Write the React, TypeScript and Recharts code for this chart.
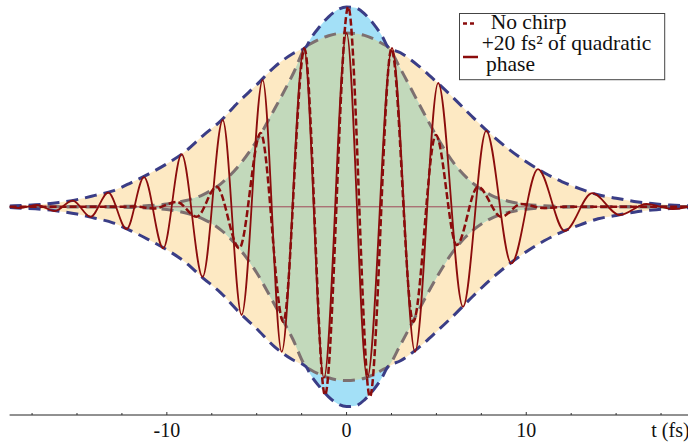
import React from 'react';
import { ComposedChart, Area, Line, XAxis, YAxis, ReferenceLine, Legend, Label } from 'recharts';

// Envelope sample times (fs) and amplitudes
const envT = [-18.75, -18, -17, -16, -15, -14, -13, -12, -11, -10, -9, -8, -7, -6, -5, -4, -3, -2.25, -2, -1.5, -1, -0.5, 0, 0.5, 1, 1.5, 2, 2.3, 3, 4, 5, 6, 7, 8, 9, 10, 11, 12, 13, 14, 15, 16, 17, 18, 19];
const unchirpedEnv = [0, 0, 0, 0, 0, 0.001, 0.002, 0.003, 0.006, 0.014, 0.03, 0.06, 0.115, 0.205, 0.33, 0.49, 0.66, 0.8, 0.84, 0.9, 0.95, 0.985, 0.999, 0.995, 0.965, 0.915, 0.85, 0.8, 0.69, 0.52, 0.355, 0.215, 0.12, 0.06, 0.028, 0.012, 0.005, 0.002, 0.001, 0, 0, 0, 0, 0, 0];
const chirpedEnv = [0.004, 0.007, 0.012, 0.022, 0.036, 0.057, 0.08, 0.12, 0.165, 0.215, 0.275, 0.355, 0.43, 0.525, 0.61, 0.7, 0.765, 0.8, 0.815, 0.838, 0.855, 0.866, 0.869, 0.866, 0.857, 0.84, 0.815, 0.8, 0.77, 0.705, 0.625, 0.54, 0.45, 0.365, 0.29, 0.225, 0.17, 0.125, 0.09, 0.06, 0.043, 0.027, 0.016, 0.009, 0.005];

// Chirped field (+20 fs^2): extrema
const chirpedT = [-18.75, -18.17, -17.25, -16.23, -15.24, -14.24, -13.26, -12.24, -11.27, -10.2, -9.18, -8.01, -6.89, -5.84, -4.67, -3.61, -2.37, -1.26, 0, 1.15, 2.53, 3.81, 5.1, 6.48, 7.77, 9.17, 10.65, 12.14, 13.67, 15.2, 16.68, 18.16, 19];
const chirpedV = [0, -0.006, 0.009, -0.021, 0.031, -0.05, 0.071, -0.111, 0.148, -0.2075, 0.263, -0.35, 0.434, -0.541, 0.634, -0.725, 0.794, -0.856, 0.869, -0.856, 0.794, -0.725, 0.619, -0.5, 0.38, -0.283, 0.188, -0.121, 0.068, -0.041, 0.014, -0.011, 0];

// Unchirped field: extrema
const unchirpedT = [-18.75, -12.2, -11.8, -10.7, -9.45, -8.34, -7.23, -5.97, -4.78, -3.52, -2.34, -1.2, 0.095, 1.3, 2.5, 3.71, 4.97, 6.13, 7.31, 8.61, 9.72, 10.95, 12.2, 19];
const unchirpedV = [0, 0, 0.002, -0.008, 0.024, -0.05, 0.1, -0.2075, 0.369, -0.575, 0.79, -0.941, 1.0, -0.95, 0.79, -0.575, 0.359, -0.191, 0.1, -0.05, 0.014, -0.006, 0, 0];

const majorTicks = [-10, 0, 10];
const minorTicks = [-17.5, -15, -12.5, -7.5, -5, -2.5, 2.5, 5, 7.5, 12.5, 15, 17.5];
const axisTitle = 't (fs)';
const legendNoChirp = 'No chirp';
const legendChirpLine1 = '+20 fs\u00B2 of quadratic';
const legendChirpLine2 = 'phase';

const envData = envT.map((t, i) => {
  const u = unchirpedEnv[i];
  const c = chirpedEnv[i];
  return { t, u, c, hi: Math.max(u, c), lo: Math.min(u, c) };
});
const chirpedData = chirpedT.map((t, i) => ({ t, v: chirpedV[i] }));
const unchirpedData = unchirpedT.map((t, i) => ({ t, v: unchirpedV[i] }));
const allTicks = [...minorTicks, ...majorTicks].sort((a, b) => a - b);

const FONT = 'Liberation Serif';
const RED = '#8b0c0c';
const NAVY = '#3a3d86';
const GRAY = '#7d7070';

const AxisTick = (props: any) => {
  const { x, y, payload } = props;
  const v = payload.value;
  const major = majorTicks.includes(v);
  return (
    <g>
      <line x1={x} x2={x} y1={y} y2={y - (major ? 3 : 2)} stroke="#333" strokeWidth={1} />
      {major && (
        <text x={x} y={y + 21.7} textAnchor="middle" fontFamily={FONT} fontSize={20} fill="#111">
          {String(v)}
        </text>
      )}
    </g>
  );
};

const LegendBox = () => (
  <svg width={208} height={70} style={{ display: 'block', overflow: 'visible' }}>
    <rect x={0.5} y={0.5} width={205.2} height={66.2} fill="#fff" stroke="#444" strokeWidth={1} />
    <line x1={4} x2={17} y1={10.6} y2={10.6} stroke={RED} strokeWidth={2.5} strokeDasharray="4 3" />
    <text x={31.7} y={15.6} fontFamily={FONT} fontSize={21.5} fill="#111">{legendNoChirp}</text>
    <text x={22.7} y={37.3} fontFamily={FONT} fontSize={21.5} fill="#111">{legendChirpLine1}</text>
    <line x1={4} x2={19} y1={44} y2={44} stroke={RED} strokeWidth={2.5} />
    <text x={27} y={57.8} fontFamily={FONT} fontSize={21.5} fill="#111">{legendChirpLine2}</text>
  </svg>
);

export default function App() {
  return (
    <div style={{ position: 'absolute', left: 0, top: 0, width: 688, height: 447, background: '#fff', fontFamily: FONT, overflow: 'hidden' }}>
      <ComposedChart width={688} height={447} margin={{ top: 0, right: 0, bottom: 0, left: 9.6 }} style={{ fontFamily: FONT }}>
        <XAxis
          type="number"
          dataKey="t"
          domain={[-18.75, 19]}
          allowDataOverflow
          ticks={allTicks}
          interval={0}
          tickLine={false}
          tickSize={0}
          tickMargin={0}
          height={32}
          axisLine={{ stroke: '#222', strokeWidth: 1 }}
          tick={<AxisTick />}
        >
          <Label
            content={(p: any) => {
              const vb = p.viewBox || {};
              return (
                <text x={vb.x + vb.width - 36.7} y={vb.y + 21.7} fontFamily={FONT} fontSize={20} fill="#111">
                  {axisTitle}
                </text>
              );
            }}
          />
        </XAxis>
        <YAxis hide width={0} type="number" domain={[-1.041, 1.034]} allowDataOverflow />
        <Area data={envData} dataKey={(d: any) => [-d.c, d.c]} type="monotone" fill="#fde9c3" fillOpacity={1} stroke="none" isAnimationActive={false} />
        <Area data={envData} dataKey={(d: any) => [-d.u, d.u]} type="monotone" fill="#a3e0f7" fillOpacity={1} stroke="none" isAnimationActive={false} />
        <Area data={envData} dataKey={(d: any) => [-d.lo, d.lo]} type="monotone" fill="#c2d9bb" fillOpacity={1} stroke="none" isAnimationActive={false} />
        <ReferenceLine y={0} stroke="#a04858" strokeWidth={1} />
        <Line data={envData} dataKey="lo" type="monotone" stroke={GRAY} strokeWidth={3} strokeDasharray="12 7" dot={false} isAnimationActive={false} />
        <Line data={envData} dataKey={(d: any) => -d.lo} type="monotone" stroke={GRAY} strokeWidth={3} strokeDasharray="12 7" dot={false} isAnimationActive={false} />
        <Line data={envData} dataKey="hi" type="monotone" stroke={NAVY} strokeWidth={3} strokeDasharray="12 7" dot={false} isAnimationActive={false} />
        <Line data={envData} dataKey={(d: any) => -d.hi} type="monotone" stroke={NAVY} strokeWidth={3} strokeDasharray="12 7" dot={false} isAnimationActive={false} />
        <Line data={chirpedData} dataKey="v" type="monotone" stroke={RED} strokeWidth={1.8} dot={false} isAnimationActive={false} />
        <Line data={unchirpedData} dataKey="v" type="monotone" stroke={RED} strokeWidth={2.5} strokeDasharray="7 3" dot={false} isAnimationActive={false} />
        <Legend
          layout="vertical"
          align="center"
          verticalAlign="middle"
          wrapperStyle={{ position: 'absolute', left: 459, top: 12.5, width: 208, height: 70 }}
          content={() => <LegendBox />}
        />
      </ComposedChart>
    </div>
  );
}
